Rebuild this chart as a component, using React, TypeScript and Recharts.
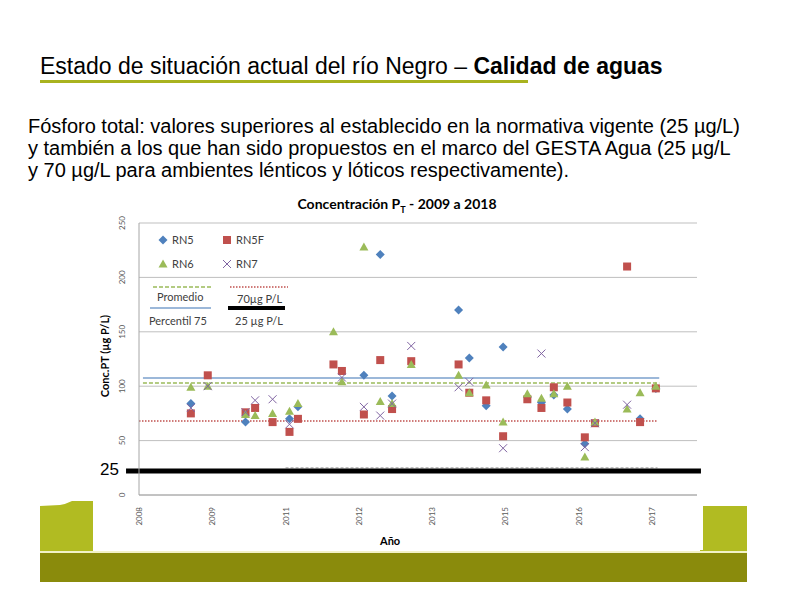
import React from 'react';
import { ScatterChart, Scatter, XAxis, YAxis, CartesianGrid, ReferenceLine } from 'recharts';

// decimal year of sampling / concentration of total P (µg P/L)
const rn5 = [
  { year: 2009.52, value: 84 }, { year: 2010.49, value: 67 }, { year: 2011.27, value: 70 },
  { year: 2011.42, value: 81 }, { year: 2012.59, value: 110 }, { year: 2012.88, value: 221 },
  { year: 2013.09, value: 91 }, { year: 2014.27, value: 170 }, { year: 2014.46, value: 126 },
  { year: 2014.76, value: 82 }, { year: 2015.06, value: 136 }, { year: 2015.49, value: 90 },
  { year: 2015.74, value: 85 }, { year: 2015.96, value: 92 }, { year: 2016.2, value: 79 },
  { year: 2016.51, value: 47 }, { year: 2017.49, value: 70 }, { year: 2017.77, value: 98 },
];

const rn5f = [
  { year: 2009.52, value: 75 }, { year: 2009.82, value: 110 }, { year: 2010.49, value: 76 },
  { year: 2010.66, value: 80 }, { year: 2010.97, value: 67 }, { year: 2011.27, value: 58 },
  { year: 2011.42, value: 70 }, { year: 2012.05, value: 120 }, { year: 2012.2, value: 114 },
  { year: 2012.59, value: 74 }, { year: 2012.88, value: 124 }, { year: 2013.09, value: 79 },
  { year: 2013.43, value: 123 }, { year: 2014.27, value: 120 }, { year: 2014.46, value: 94 },
  { year: 2014.76, value: 87 }, { year: 2015.06, value: 54 }, { year: 2015.49, value: 88 },
  { year: 2015.74, value: 80 }, { year: 2015.96, value: 99 }, { year: 2016.2, value: 85 },
  { year: 2016.51, value: 53 }, { year: 2016.69, value: 66 }, { year: 2017.26, value: 210 },
  { year: 2017.49, value: 67 }, { year: 2017.77, value: 98 },
];

const rn6 = [
  { year: 2009.52, value: 99 }, { year: 2009.82, value: 100 }, { year: 2010.49, value: 74 },
  { year: 2010.66, value: 73 }, { year: 2010.97, value: 75 }, { year: 2011.27, value: 77 },
  { year: 2011.42, value: 84 }, { year: 2012.05, value: 150 }, { year: 2012.2, value: 104 },
  { year: 2012.59, value: 228 }, { year: 2012.88, value: 86 }, { year: 2013.09, value: 84 },
  { year: 2013.43, value: 120 }, { year: 2014.27, value: 110 }, { year: 2014.46, value: 94 },
  { year: 2014.76, value: 101 }, { year: 2015.06, value: 67 }, { year: 2015.49, value: 93 },
  { year: 2015.74, value: 89 }, { year: 2015.96, value: 93 }, { year: 2016.2, value: 100 },
  { year: 2016.51, value: 35 }, { year: 2016.69, value: 67 }, { year: 2017.26, value: 79 },
  { year: 2017.49, value: 94 }, { year: 2017.77, value: 100 },
];

const rn7 = [
  { year: 2009.52, value: 80 }, { year: 2009.82, value: 100 }, { year: 2010.49, value: 76 },
  { year: 2010.66, value: 87 }, { year: 2010.97, value: 88 }, { year: 2011.27, value: 65 },
  { year: 2012.2, value: 108 }, { year: 2012.59, value: 81 }, { year: 2012.88, value: 73 },
  { year: 2013.09, value: 84 }, { year: 2013.43, value: 137 }, { year: 2014.27, value: 99 },
  { year: 2014.46, value: 104 }, { year: 2015.06, value: 43 }, { year: 2015.74, value: 130 },
  { year: 2016.51, value: 44 }, { year: 2016.69, value: 66 }, { year: 2017.26, value: 83 },
];

const xTicks = [2008.6, 2009.9, 2011.2, 2012.5, 2013.8, 2015.1, 2016.4, 2017.7];
const xTickLabels = ['2008', '2009', '2011', '2012', '2013', '2015', '2016', '2017'];
const yTicks = [0, 50, 100, 150, 200, 250];

const promedio = 103;
const percentil75 = 107.5;
const limite70 = 68;
const limite25 = 25;
const barra25 = 22; // thick black bar drawn over the slide

const C_RN5 = '#4F81BD';
const C_RN5F = '#C0504D';
const C_RN6 = '#9BBB59';
const C_RN7 = '#8064A2';

const Diamond = ({ cx, cy }: any) => (
  <path d={`M${cx},${cy - 4.5}L${cx + 4.5},${cy}L${cx},${cy + 4.5}L${cx - 4.5},${cy}Z`} fill={C_RN5} />
);
const Square = ({ cx, cy }: any) => <rect x={cx - 4} y={cy - 4} width={8} height={8} fill={C_RN5F} />;
const Triangle = ({ cx, cy }: any) => (
  <path d={`M${cx},${cy - 4.5}L${cx + 4.5},${cy + 3.5}L${cx - 4.5},${cy + 3.5}Z`} fill={C_RN6} />
);
const XMark = ({ cx, cy }: any) => (
  <g stroke={C_RN7} strokeWidth={1}>
    <line x1={cx - 4} y1={cy - 4} x2={cx + 4} y2={cy + 4} />
    <line x1={cx - 4} y1={cy + 4} x2={cx + 4} y2={cy - 4} />
  </g>
);

const YTick = ({ x, y, payload }: any) => (
  <text x={x - 6} y={y} transform={`rotate(-90 ${x - 6} ${y})`} textAnchor="middle"
    fontSize={8} fill="#595959" fontFamily="Lato">
    {payload.value}
  </text>
);

const XTick = ({ x, y, payload }: any) => {
  const i = xTicks.indexOf(payload.value);
  return (
    <text x={x + 3} y={y + 4} transform={`rotate(-90 ${x + 3} ${y + 4})`} textAnchor="end"
      fontSize={8} fill="#595959" fontFamily="Lato">
      {xTickLabels[i]}
    </text>
  );
};

const legendText: React.CSSProperties = {
  position: 'absolute', fontFamily: 'Lato', fontSize: 11, color: '#404040', whiteSpace: 'nowrap', lineHeight: '12px',
};

const Icon = ({ children }: any) => (
  <svg width={12} height={12} style={{ position: 'absolute', left: -15, top: 0 }}>{children}</svg>
);

const ChartLegend = () => (
  <div style={{ position: 'absolute', left: 0, top: 0 }}>
    <div style={{ ...legendText, left: 172, top: 234 }}><Icon><Diamond cx={6} cy={6} /></Icon>RN5</div>
    <div style={{ ...legendText, left: 236, top: 234 }}><Icon><Square cx={6} cy={6} /></Icon>RN5F</div>
    <div style={{ ...legendText, left: 172, top: 258 }}><Icon><Triangle cx={6} cy={6} /></Icon>RN6</div>
    <div style={{ ...legendText, left: 236, top: 258 }}><Icon><XMark cx={6} cy={6} /></Icon>RN7</div>
    <svg width={794} height={595} style={{ position: 'absolute', left: 0, top: 0 }}>
      <line x1={153} y1={287} x2={211} y2={287} stroke={C_RN6} strokeWidth={1.5} strokeDasharray="4 2" />
      <line x1={150} y1={308} x2={211} y2={308} stroke="#7BA0CD" strokeWidth={1.5} />
      <line x1={230} y1={287} x2={288} y2={287} stroke={C_RN5F} strokeWidth={1.5} strokeDasharray="1.5 1.5" />
      <line x1={228} y1={308} x2={285} y2={308} stroke="#000" strokeWidth={4} />
    </svg>
    <div style={{ ...legendText, left: 157, top: 291 }}>Promedio</div>
    <div style={{ ...legendText, left: 149, top: 315 }}>Percentil 75</div>
    <div style={{ ...legendText, left: 237, top: 293 }}>70µg P/L</div>
    <div style={{ ...legendText, left: 235, top: 315 }}>25 µg P/L</div>
  </div>
);

export default function App() {
  return (
    <div style={{ position: 'absolute', left: 0, top: 0, width: 794, height: 595, background: '#fff', overflow: 'hidden' }}>
      <div style={{ position: 'absolute', left: 40, top: 53, fontFamily: 'Liberation Sans', fontSize: 23, lineHeight: '26px', color: '#000', whiteSpace: 'nowrap' }}>
        Estado de situación actual del río Negro – <b>Calidad de aguas</b>
      </div>
      <div style={{ position: 'absolute', left: 40, top: 80, width: 488, height: 3, background: '#A9B31F' }} />
      <div style={{ position: 'absolute', left: 28, top: 115, width: 766, fontFamily: 'Liberation Sans', fontSize: 20, lineHeight: '22px', color: '#000', whiteSpace: 'nowrap' }}>
        Fósforo total: valores superiores al establecido en la normativa vigente (25 µg/L)<br />
        y también a los que han sido propuestos en el marco del GESTA Agua (25 µg/L<br />
        y 70 µg/L para ambientes lénticos y lóticos respectivamente).
      </div>

      {/* olive decoration at the bottom of the slide */}
      <svg width={794} height={595} style={{ position: 'absolute', left: 0, top: 0 }}>
        <path d="M40,506 L60,505 Q66,504 72,501 L93,501 L93,551 L40,551 Z" fill="#B1BB22" />
        <rect x={700} y={506} width={47} height={45} fill="#B1BB22" />
        <rect x={40} y={551} width={707} height={2} fill="#F2F2C8" />
        <rect x={40} y={553} width={707} height={29} fill="#8A8B0C" />
      </svg>

      <div style={{ position: 'absolute', left: 93, top: 190, width: 610, height: 360, background: '#fff' }}>
        <ScatterChart width={610} height={360} margin={{ top: 33, right: 6, left: 0, bottom: 0 }}>
          <CartesianGrid vertical={false} stroke="#BFBFBF" />
          <XAxis type="number" dataKey="year" domain={[2008.6, 2018.5]} ticks={xTicks} tick={<XTick />}
            tickLine={false} axisLine={{ stroke: '#A6A6A6' }} height={55} allowDataOverflow />
          <YAxis type="number" dataKey="value" domain={[0, 250]} ticks={yTicks} tick={<YTick />}
            tickLine={false} axisLine={{ stroke: '#A6A6A6' }} width={46} />
          <ReferenceLine segment={[{ x: 2008.67, y: percentil75 }, { x: 2017.83, y: percentil75 }]} stroke="#7BA0CD" strokeWidth={1.5} />
          <ReferenceLine segment={[{ x: 2008.67, y: promedio }, { x: 2017.83, y: promedio }]} stroke={C_RN6} strokeWidth={1.5} strokeDasharray="4 2" />
          <ReferenceLine segment={[{ x: 2008.6, y: limite70 }, { x: 2017.79, y: limite70 }]} stroke={C_RN5F} strokeWidth={1.5} strokeDasharray="1.5 1.5" />
          <ReferenceLine segment={[{ x: 2011.2, y: limite25 }, { x: 2017.8, y: limite25 }]} stroke="#A6A6A6" strokeWidth={1} strokeDasharray="3 2" />
          <Scatter name="RN5" data={rn5} shape={<Diamond />} isAnimationActive={false} />
          <Scatter name="RN5F" data={rn5f} shape={<Square />} isAnimationActive={false} />
          <Scatter name="RN6" data={rn6} shape={<Triangle />} isAnimationActive={false} />
          <Scatter name="RN7" data={rn7} shape={<XMark />} isAnimationActive={false} />
          <ReferenceLine segment={[{ x: 2008.37, y: barra25 }, { x: 2018.57, y: barra25 }]} stroke="#000" strokeWidth={5} ifOverflow="visible" />
        </ScatterChart>
      </div>

      <div style={{ position: 'absolute', left: 292, top: 195, width: 210, textAlign: 'center', fontFamily: 'Lato', fontWeight: 700, fontSize: 14, color: '#000', whiteSpace: 'nowrap' }}>
        Concentración P<sub style={{ fontSize: 9 }}>T</sub> - 2009 a 2018
      </div>
      <div style={{ position: 'absolute', left: 104, top: 356, transform: 'translate(-50%, -50%) rotate(-90deg)', fontFamily: 'Lato', fontWeight: 700, fontSize: 11, whiteSpace: 'nowrap' }}>
        Conc.PT (µg P/L)
      </div>
      <div style={{ position: 'absolute', left: 380, top: 534, fontFamily: 'Lato', fontWeight: 700, fontSize: 11 }}>Año</div>
      <div style={{ position: 'absolute', left: 100, top: 460, fontFamily: 'Liberation Sans', fontSize: 17, color: '#000' }}>25</div>

      <ChartLegend />
    </div>
  );
}
